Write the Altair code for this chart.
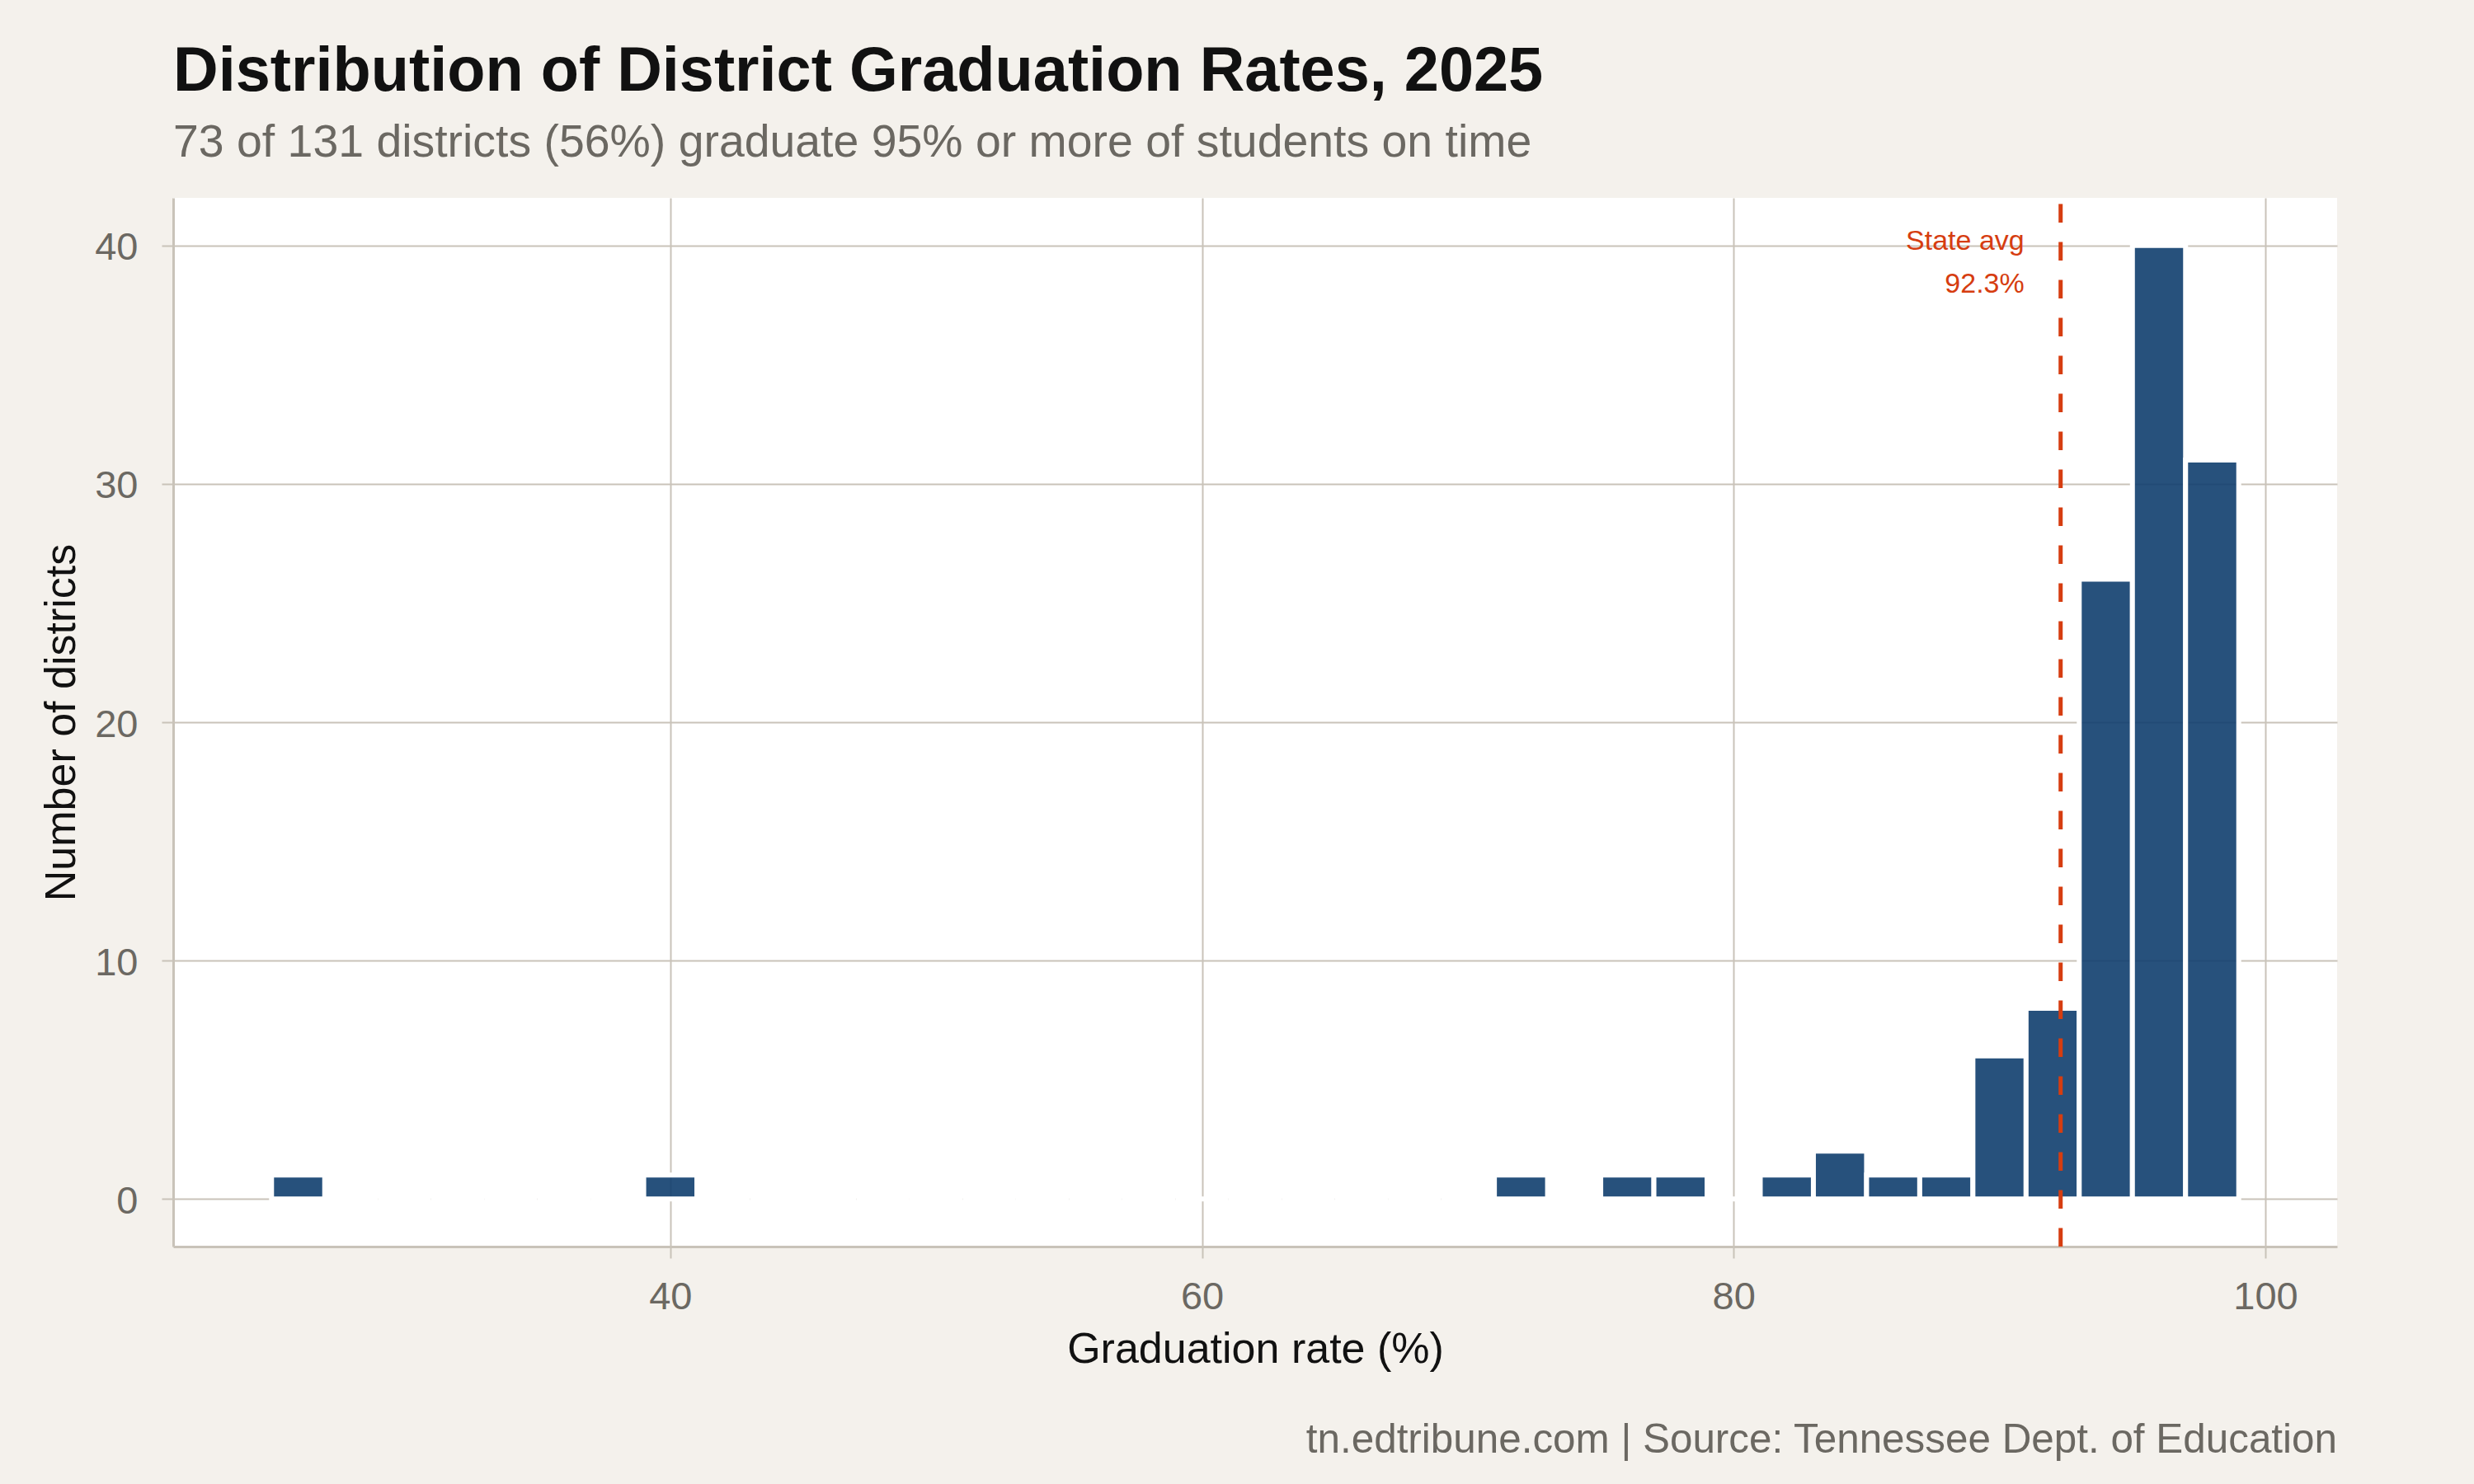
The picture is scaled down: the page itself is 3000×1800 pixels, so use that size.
import altair as alt
import pandas as pd

# Histogram bins (width 2, from 25 to 99) and district counts per bin
bin_starts = list(range(25, 99, 2))
counts = [1, 0, 0, 0, 0, 0, 0, 1, 0, 0, 0, 0, 0, 0, 0, 0, 0, 0, 0, 0, 0, 0, 0, 1,
          0, 1, 1, 0, 1, 2, 1, 1, 6, 8, 26, 40, 31]
bin_width = 2
state_avg = 92.3
x_ticks = [40, 60, 80, 100]
y_ticks = [0, 10, 20, 30, 40]
x_domain = [21.3, 102.7]
y_domain = [-2, 42]

title_text = "Distribution of District Graduation Rates, 2025"
subtitle_text = "73 of 131 districts (56%) graduate 95% or more of students on time"
caption_text = "tn.edtribune.com | Source: Tennessee Dept. of Education"
annot_lines = ["State avg", f"{state_avg}%"]

df = pd.DataFrame({
    "start": bin_starts,
    "end": [s + bin_width for s in bin_starts],
    "count": counts,
})

FONT = "Liberation Sans"
GRID = "#C9C3B9"
GRAY_TXT = "#6B6862"
RED = "#D63D10"
W, H = 2624, 1272

xscale = alt.Scale(domain=x_domain, nice=False, zero=False)
yscale = alt.Scale(domain=y_domain, nice=False, zero=False)

x_axis = alt.Axis(values=x_ticks, grid=True, gridColor=GRID, gridWidth=2,
                  domainColor=GRID, domainWidth=3, tickColor=GRID, tickWidth=2,
                  tickSize=14, labelFont=FONT, labelFontSize=47, labelColor=GRAY_TXT,
                  labelPadding=24, title="Graduation rate (%)", titleFont=FONT,
                  titleFontSize=52, titleFontWeight="normal", titleColor="#111111",
                  titleY=140, titleBaseline="alphabetic")
y_axis = alt.Axis(values=y_ticks, grid=True, gridColor=GRID, gridWidth=2,
                  domainColor=GRID, domainWidth=3, tickColor=GRID, tickWidth=2,
                  tickSize=14, labelFont=FONT, labelFontSize=47, labelColor=GRAY_TXT,
                  labelPadding=29, labelOffset=3, title="Number of districts",
                  titleFont=FONT, titleFontSize=52, titleFontWeight="normal",
                  titleColor="#111111", titleX=-120, titleY=H / 2,
                  titleAngle=-90, titleAlign="center", titleBaseline="alphabetic")

bars = alt.Chart(df).mark_rect(
    fill="#103E6E", fillOpacity=0.9, stroke="white", strokeWidth=6, strokeOpacity=1
).encode(
    x=alt.X("start:Q", scale=xscale, axis=x_axis),
    x2="end:Q",
    y=alt.Y("count:Q", scale=yscale, axis=y_axis),
    y2=alt.datum(0),
)

avg_df = pd.DataFrame({"avg": [state_avg]})
rule = alt.Chart(avg_df).mark_rule(
    color=RED, strokeWidth=5, strokeDash=[22.6, 23.4]
).encode(
    x=alt.X("avg:Q", scale=xscale),
    y=alt.datum(y_domain[0]),
    y2=alt.datum(y_domain[1]),
)

annot = alt.Chart(avg_df).mark_text(
    align="right", baseline="alphabetic", font=FONT, fontSize=34,
    color=RED, dx=-44, dy=5, lineHeight=52, text=annot_lines
).encode(
    x=alt.X("avg:Q", scale=xscale),
    y=alt.datum(max(counts)),
)

caption = alt.Chart(avg_df).mark_text(
    align="right", baseline="alphabetic", font=FONT, fontSize=49.4,
    color=GRAY_TXT, text=caption_text
).encode(
    x=alt.value(W),
    y=alt.value(1522),
)

chart = alt.layer(bars, rule, annot, caption).properties(
    width=W, height=H,
    title=alt.TitleParams(
        text=title_text, subtitle=subtitle_text, anchor="start", frame="group",
        font=FONT, fontSize=75.7, fontWeight="bold", color="#111111",
        subtitleFont=FONT, subtitleFontSize=55.4, subtitleColor=GRAY_TXT,
        subtitlePadding=20, offset=35, baseline="top",
    ),
    autosize=alt.AutoSizeParams(type="none"),
    padding={"left": 210, "top": 240, "right": 166, "bottom": 288},
).configure(
    background="#F4F1EC",
).configure_view(
    fill="white", stroke=None,
)

chart.save("out.html", embed_options={"renderer": "svg", "actions": False})
